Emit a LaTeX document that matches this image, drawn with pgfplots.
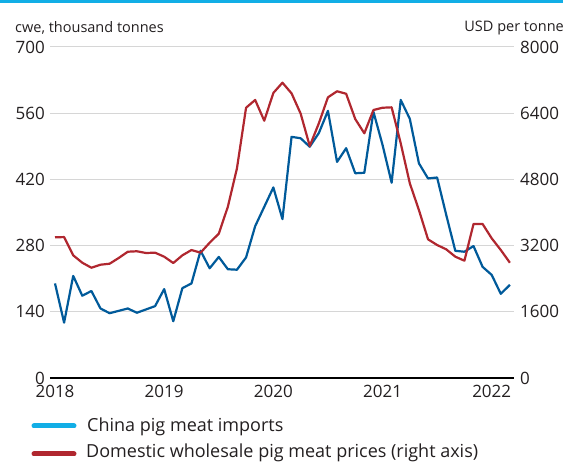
\documentclass[border=0pt]{standalone}
\usepackage{pgfplots}
\pgfplotsset{compat=1.18}
\usepackage{pgfplotstable}
\usepackage{fontspec}
\setmainfont{Open Sans}

\definecolor{barcyan}{HTML}{12AEE6}
\definecolor{impblue}{HTML}{005A9A}
\definecolor{pricered}{HTML}{B0272F}
\definecolor{gridgray}{HTML}{D6D6D6}
\definecolor{txt}{HTML}{231F20}

% month index (0 = Jan 2018), imports (kt cwe), price (USD/t)
\pgfplotstableread{
m imports price
0 200 3400
1 117 3406
2 216 2965
3 174 2786
4 184 2665
5 147 2738
6 137 2762
7 142 2900
8 147 3052
9 138 3063
10 145 3021
11 152 3029
12 188 2932
13 120 2779
14 190 2965
15 200 3093
16 269 3029
17 232 3270
18 256 3487
19 230 4140
20 229 5068
21 255 6532
22 321 6720
23 362 6218
24 403 6890
25 336 7137
26 510 6880
27 507 6390
28 489 5607
29 518 6155
30 565 6784
31 457 6930
32 486 6870
33 433 6259
34 434 5914
35 563 6477
36 493 6532
37 413 6542
38 588 5672
39 548 4705
40 454 4060
41 422 3352
42 424 3214
43 345 3110
44 269 2932
45 267 2835
46 279 3722
47 235 3722
48 218 3376
49 178 3093
50 197 2786
}\pigdata

\pgfplotsset{
  pigaxis/.style={
    at={(50pt,85pt)}, anchor=south west,
    scale only axis, width=464pt, height=331pt,
    xmin=-0.55, xmax=50.45, ymin=0,
    major tick length=0pt, tick style={draw=none},
    /pgf/number format/assume math mode=true,
    /pgf/number format/set thousands separator={},
    ticklabel style={font=\fontsize{17}{17}\selectfont, text=txt, inner sep=0pt},
    clip=false,
  },
  pigline/.style={line width=2.2pt, line join=round, no markers},
}

\begin{document}
\begin{tikzpicture}
\useasboundingbox (0,0) rectangle (563pt,463pt);

% left axis: imports
\begin{axis}[pigaxis,
  ymax=700, ytick={0,140,...,700},
  xtick={0,12,24,36,48}, xticklabels={2018,2019,2020,2021,2022},
  axis x line*=bottom, axis y line*=left,
  y axis line style={draw=none},
  x axis line style={line width=2.6pt, black, -},
  ymajorgrids, grid style={gridgray, line width=1pt},
  yticklabel style={anchor=east, xshift=-5pt},
  xticklabel style={anchor=north, yshift=-7pt},
]
\addplot[pigline, impblue] table[x=m, y=imports] {\pigdata};
\end{axis}

% right axis: prices
\begin{axis}[pigaxis,
  ymax=8000, ytick={0,1600,...,8000}, xtick=\empty,
  axis x line=none, axis y line*=right,
  ytick pos=right, yticklabel pos=right,
  y axis line style={draw=none},
  yticklabel style={anchor=west, xshift=6pt},
]
\addplot[pigline, pricered] table[x=m, y=price] {\pigdata};
\end{axis}

\fill[barcyan] (0,459.6pt) rectangle (563pt,463pt);
\node[anchor=base west, inner sep=0pt, text=txt, font=\fontsize{14.5}{14.5}\selectfont]
  at (15pt,430.5pt) {cwe, thousand tonnes};
\node[anchor=base east, inner sep=0pt, text=txt, font=\fontsize{14.5}{14.5}\selectfont]
  at (564pt,431.5pt) {USD per tonne};

% legend
\draw[barcyan, line width=5pt, line cap=round] (34pt,37pt) -- (74pt,37pt);
\draw[pricered, line width=5pt, line cap=round] (34pt,9pt) -- (74pt,9pt);
\node[anchor=base west, inner sep=0pt, text=txt, font=\fontsize{18}{18}\selectfont]
  at (87pt,31.5pt) {China pig meat imports};
\node[anchor=base west, inner sep=0pt, text=txt, font=\fontsize{18}{18}\selectfont]
  at (86pt,5pt) {Domestic wholesale pig meat prices (right axis)};
\end{tikzpicture}
\end{document}
